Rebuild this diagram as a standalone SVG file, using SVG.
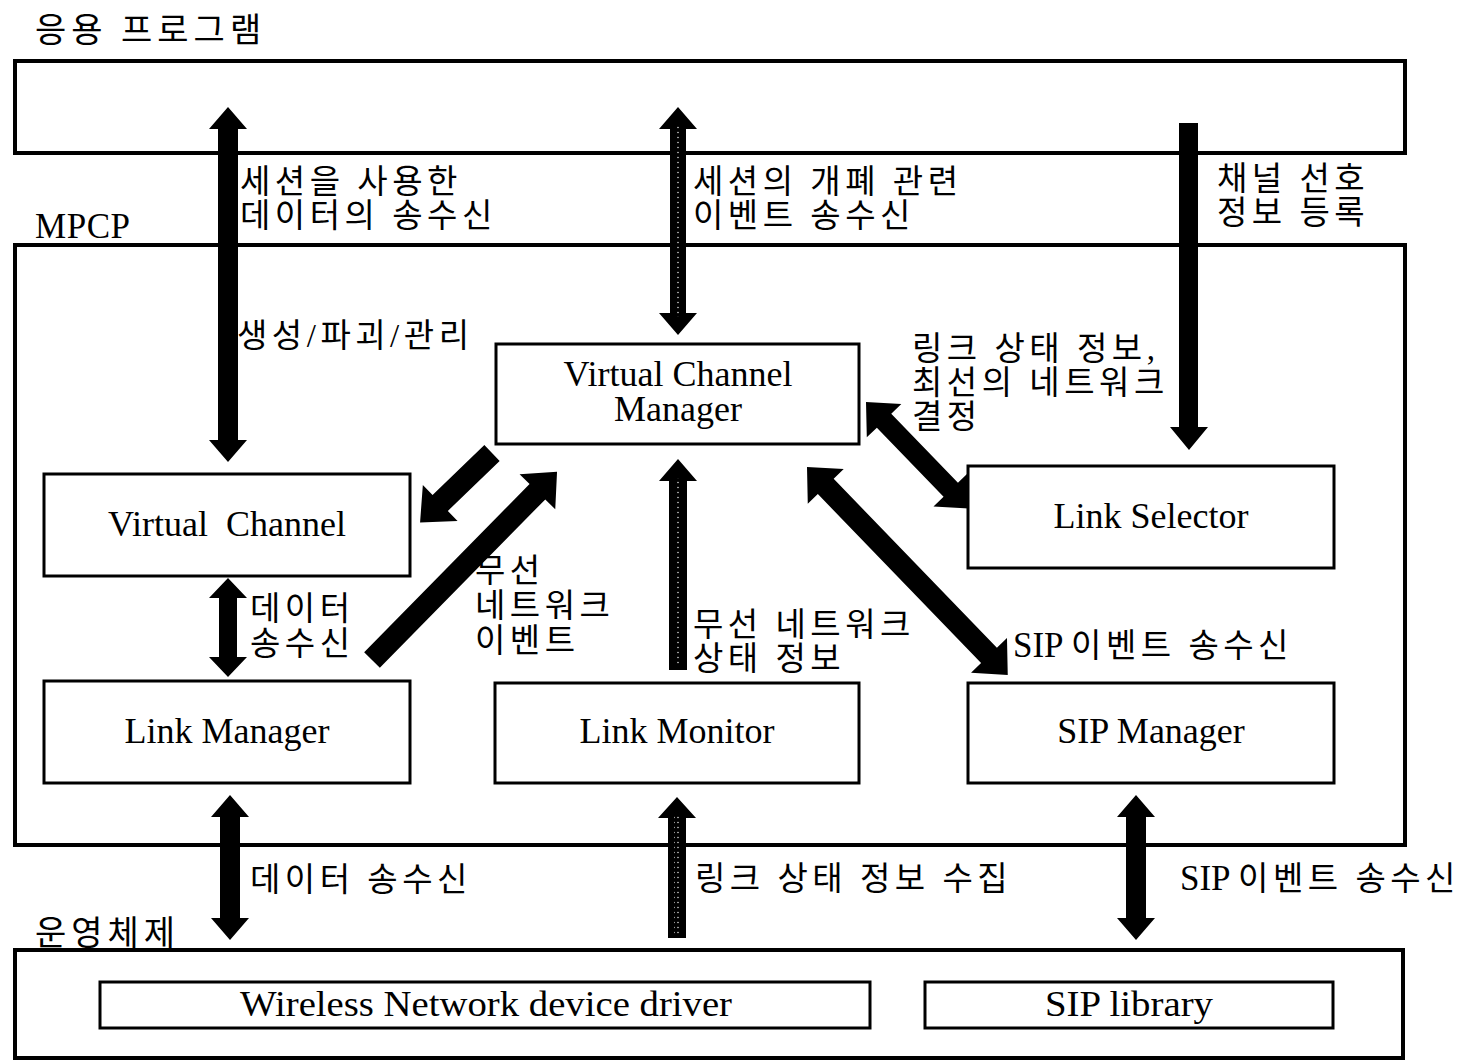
<svg xmlns="http://www.w3.org/2000/svg" width="1471" height="1061" viewBox="0 0 1471 1061">
<style>
  .frame { fill: none; stroke: #000; stroke-width: 4; }
  .node rect { fill: #fff; stroke: #000; stroke-width: 3; }
  .en { font-family: "Liberation Serif", "Times New Roman", serif; font-size: 36px; fill: #000; text-anchor: middle; }
  .ko { font-family: "Liberation Serif", "Noto Sans CJK KR", sans-serif; font-size: 33px; fill: #000; letter-spacing: 4.5px; }
  .lat { letter-spacing: 0px; font-size: 35px; }
  .title { font-family: "Liberation Serif", "Noto Sans CJK KR", serif; font-size: 34px; fill: #000; letter-spacing: 5px; }
  .arr { fill: #000; }
  .spk { fill: url(#speck); }
</style>
<defs>
  <pattern id="speck" width="4" height="5" patternUnits="userSpaceOnUse">
    <rect width="4" height="5" fill="#000"/>
    <circle cx="2" cy="2.5" r="0.7" fill="#fff"/>
  </pattern>
</defs>
<rect width="1471" height="1061" fill="#fff"/>

<!-- Layers / frames -->
<g id="app-layer">
  <rect class="frame" x="15" y="61" width="1390" height="92"/>
  <text class="title" x="35" y="42">응용 프로그램</text>
</g>
<g id="mpcp-layer">
  <rect class="frame" x="15" y="245" width="1390" height="600"/>
  <text x="35" y="238" style="font-family:'Liberation Serif',serif;font-size:35px" textLength="95">MPCP</text>
</g>
<g id="os-layer">
  <rect class="frame" x="15" y="950" width="1388" height="108"/>
  <text class="title" x="35" y="945">운영체제</text>
</g>

<!-- Nodes -->
<g id="vcm" class="node">
  <rect x="496" y="344" width="363" height="100"/>
  <text class="en" x="678" y="386">Virtual Channel</text>
  <text class="en" x="678" y="421">Manager</text>
</g>
<g id="vc" class="node">
  <rect x="44" y="474" width="366" height="102"/>
  <text class="en" x="227" y="536" xml:space="preserve">Virtual  Channel</text>
</g>
<g id="ls" class="node">
  <rect x="968" y="466" width="366" height="102"/>
  <text class="en" x="1151" y="528">Link Selector</text>
</g>
<g id="lm" class="node">
  <rect x="44" y="681" width="366" height="102"/>
  <text class="en" x="227" y="743">Link Manager</text>
</g>
<g id="lmon" class="node">
  <rect x="495" y="683" width="364" height="100"/>
  <text class="en" x="677" y="743">Link Monitor</text>
</g>
<g id="sipm" class="node">
  <rect x="968" y="683" width="366" height="100"/>
  <text class="en" x="1151" y="743">SIP Manager</text>
</g>
<g id="wndd" class="node">
  <rect x="100" y="982" width="770" height="46"/>
  <text class="en" x="486" y="1016" textLength="492" lengthAdjust="spacingAndGlyphs">Wireless Network device driver</text>
</g>
<g id="siplib" class="node">
  <rect x="925" y="982" width="408" height="46"/>
  <text class="en" x="1129" y="1016" textLength="168" lengthAdjust="spacingAndGlyphs">SIP library</text>
</g>

<!-- Connectors -->
<g id="connectors">
  <!-- App <-> VC (left vertical double) -->
  <polygon class="arr" points="228,107 247,129 238,129 238,440 247,440 228,462 209,440 218,440 218,129 209,129"/>
  <!-- App <-> VCM (middle vertical double, speckled) -->
  <polygon class="arr" points="678,107 697,129 686,129 686,313 697,313 678,335 659,313 670,313 670,129 659,129"/>
  <rect class="spk" x="675" y="125" width="6" height="192"/>
  <!-- App -> Link Selector (right vertical down) -->
  <polygon class="arr" points="1179,123 1198,123 1198,427 1208,427 1189,450 1170,427 1179,427"/>
  <!-- VCM -> VC (diagonal single) -->
  <g transform="translate(492,453) rotate(136)">
    <polygon class="arr" points="0,-11 72,-11 72,-25 100,0 72,25 72,11 0,11"/>
  </g>
  <!-- LM -> VCM (diagonal single) -->
  <g transform="translate(372,660) rotate(-45.5)">
    <polygon class="arr" points="0,-11 236,-11 236,-25 264,0 236,25 236,11 0,11"/>
  </g>
  <!-- Link Monitor -> VCM (vertical up, speckled) -->
  <polygon class="arr" points="678,459 697,481 687,481 687,670 669,670 669,481 659,481"/>
  <rect class="spk" x="675" y="478" width="6" height="188"/>
  <!-- VCM <-> Link Selector (diagonal double) -->
  <g transform="translate(866,402) rotate(46)">
    <polygon class="arr" points="0,0 26,-24 26,-10 122,-10 122,-24 148,0 122,24 122,10 26,10 26,24"/>
  </g>
  <!-- VCM <-> SIP Manager (diagonal double) -->
  <g transform="translate(807,467) rotate(46)">
    <polygon class="arr" points="0,0 27,-25 27,-11 262,-11 262,-25 289,0 262,25 262,11 27,11 27,25"/>
  </g>
  <!-- VC <-> LM (short vertical double) -->
  <polygon class="arr" points="228,578 247,598 237,598 237,657 247,657 228,677 209,657 219,657 219,598 209,598"/>
  <!-- LM <-> OS -->
  <polygon class="arr" points="230,795 249,817 240,817 240,918 249,918 230,940 211,918 220,918 220,817 211,817"/>
  <!-- OS -> Link Monitor (vertical up, speckled) -->
  <polygon class="arr" points="677,797 696,818 686,818 686,938 668,938 668,818 658,818"/>
  <rect class="spk" x="674" y="815" width="6" height="120"/>
  <!-- SIP Manager <-> OS -->
  <polygon class="arr" points="1136,795 1155,817 1146,817 1146,918 1155,918 1136,940 1117,918 1126,918 1126,817 1117,817"/>
</g>

<!-- Connector labels -->
<g id="labels">
  <text class="ko" x="240" y="193">세션을 사용한</text>
  <text class="ko" x="240" y="227">데이터의 송수신</text>
  <text class="ko" x="693" y="193">세션의 개폐 관련</text>
  <text class="ko" x="693" y="227">이벤트 송수신</text>
  <text class="ko" x="1217" y="190">채널 선호</text>
  <text class="ko" x="1217" y="224">정보 등록</text>
  <text class="ko" x="237" y="347">생성/파괴/관리</text>
  <text class="ko" x="912" y="360">링크 상태 정보,</text>
  <text class="ko" x="912" y="394">최선의 네트워크</text>
  <text class="ko" x="912" y="428">결정</text>
  <text class="ko" x="475" y="582">무선</text>
  <text class="ko" x="475" y="617">네트워크</text>
  <text class="ko" x="475" y="652">이벤트</text>
  <text class="ko" x="693" y="636">무선 네트워크</text>
  <text class="ko" x="693" y="670">상태 정보</text>
  <text class="ko" x="1013" y="657"><tspan class="lat">SIP </tspan>이벤트 송수신</text>
  <text class="ko" x="250" y="620">데이터</text>
  <text class="ko" x="250" y="655">송수신</text>
  <text class="ko" x="250" y="891">데이터 송수신</text>
  <text class="ko" x="695" y="890">링크 상태 정보 수집</text>
  <text class="ko" x="1180" y="890"><tspan class="lat">SIP </tspan>이벤트 송수신</text>
</g>
</svg>
